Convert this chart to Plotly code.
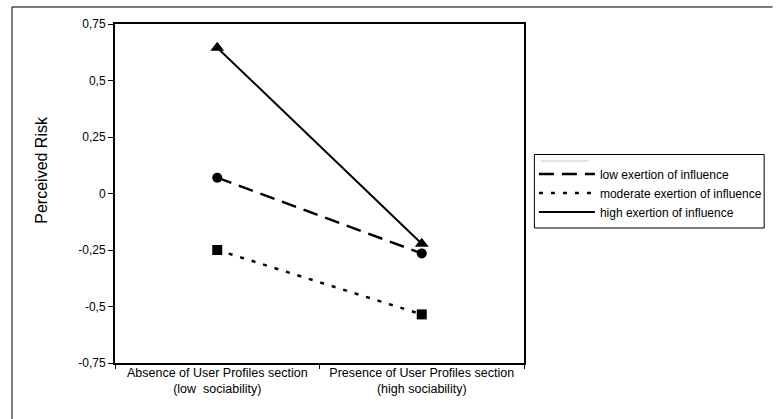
import plotly.graph_objects as go

categories = ["Absence of User Profiles section<br>(low  sociability)",
              "Presence of User Profiles section<br>(high sociability)"]
low_vals = [0.07, -0.265]
moderate_vals = [-0.25, -0.535]
high_vals = [0.645, -0.222]
y_tickvals = [-0.75, -0.5, -0.25, 0, 0.25, 0.5, 0.75]
y_ticktext = ["-0,75", "-0,5", "-0,25", "0", "0,25", "0,5", "0,75"]

FONT = "Arial, 'Liberation Sans', sans-serif"

series = [
    ("low exertion of influence", low_vals, dict(color="black", width=2.5, dash="15px,8px"), "circle", 10),
    ("moderate exertion of influence", moderate_vals, dict(color="black", width=2.5, dash="4px,8px"), "square", 10),
    ("high exertion of influence", high_vals, dict(color="black", width=2), "triangle-up", 12),
]

fig = go.Figure()
for name, vals, line, sym, size in series:
    fig.add_trace(go.Scatter(x=categories, y=vals, mode="lines", name=name, line=line))
for name, vals, line, sym, size in series:
    fig.add_trace(go.Scatter(x=categories, y=vals, mode="markers", name=name, showlegend=False,
                             marker=dict(symbol=sym, size=size, color="black")))

L, R, T, B = 115, 528, 24, 363
W, H = 779, 419
pw, ph = R - L, B - T

def px(x):
    return (x - L) / pw

def py(y):
    return (B - y) / ph

fig.update_layout(
    width=W, height=H,
    margin=dict(l=L, r=W - R, t=T, b=H - B, pad=0),
    paper_bgcolor="white", plot_bgcolor="white",
    font=dict(family=FONT, size=12, color="black"),
    showlegend=True,
    legend=dict(x=px(538), y=py(159.5), xanchor="left", yanchor="top",
                bgcolor="rgba(0,0,0,0)", borderwidth=0,
                font=dict(size=12), tracegroupgap=0, itemwidth=56),
    shapes=[
        dict(type="line", xref="paper", yref="paper", x0=px(11), y0=py(7), x1=px(779), y1=py(7),
             line=dict(color="#7a7a7a", width=2)),
        dict(type="line", xref="paper", yref="paper", x0=px(11), y0=py(7), x1=px(11), y1=py(419),
             line=dict(color="black", width=1)),
        dict(type="rect", xref="paper", yref="paper", x0=px(538.5), y0=py(154.5), x1=px(770.5), y1=py(228),
             line=dict(color="black", width=1), fillcolor="white", layer="above"),
        dict(type="line", xref="paper", yref="paper", x0=px(545), y0=py(161), x1=px(593), y1=py(161),
             line=dict(color="#c8c8c8", width=1), layer="above"),
    ],
    annotations=[
        dict(text="Perceived Risk", xref="paper", yref="paper", x=px(40), y=py(170),
             xanchor="center", yanchor="middle", textangle=-90, showarrow=False,
             font=dict(size=16)),
    ],
)
fig.update_xaxes(type="category", range=[-0.5, 1.5], showline=True, mirror=True,
                 linecolor="black", linewidth=2, ticks="outside", tickson="boundaries",
                 ticklen=4, tickcolor="black", showgrid=False, zeroline=False,
                 tickfont=dict(size=12.5), ticklabelstandoff=-3)
fig.update_yaxes(range=[-0.75, 0.75], tickvals=y_tickvals, ticktext=y_ticktext,
                 showline=True, mirror=True, linecolor="black", linewidth=2,
                 ticks="outside", ticklen=5, tickcolor="black", showgrid=False,
                 zeroline=False, tickfont=dict(size=12))

fig.write_html("out.html", config={"displayModeBar": False},
               post_script="document.body.style.margin='0px';"
                           "document.body.style.overflow='hidden';"
                           "document.documentElement.style.overflow='hidden';")
